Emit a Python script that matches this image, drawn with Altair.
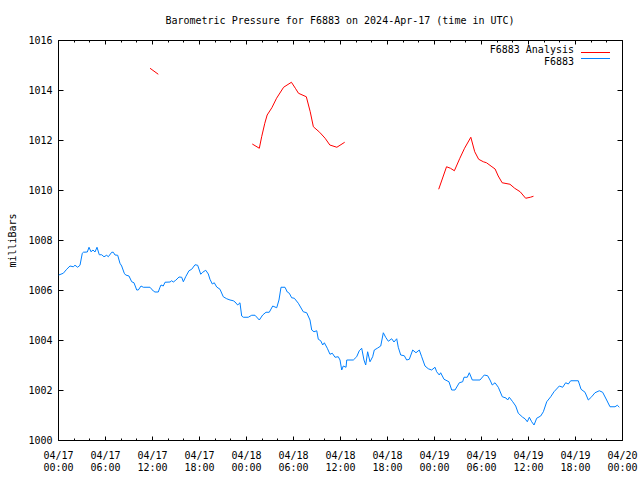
import altair as alt
import pandas as pd

# ---------------- data (hours since 2024-04-17 00:00 UTC, millibars) ----------------
blue_hours = [0.1, 0.68, 1.11, 1.53, 1.95, 2.17, 2.51, 2.81, 3.10, 3.23,
              3.74, 3.96, 4.21, 4.47, 4.72, 4.98, 5.27, 5.58, 5.87, 6.22,
              6.42, 6.86, 7.06, 7.28, 7.62, 7.91, 8.13, 8.46, 8.64, 9.06,
              9.41, 9.70, 10.05, 10.25, 10.60, 10.89, 11.74, 12.17, 12.38, 12.80,
              13.02, 13.15, 13.44, 13.66, 14.30, 14.51, 14.72, 15.03, 15.45, 15.79,
              16.00, 16.30, 16.72, 17.07, 17.49, 17.83, 18.22, 18.47, 18.86, 19.19,
              19.40, 19.70, 19.95, 20.26, 20.68, 21.10, 21.54, 21.96, 22.38, 22.60,
              22.94, 23.23, 23.45, 23.66, 24.29, 24.73, 25.15, 25.70, 26.13, 26.55,
              26.97, 27.41, 27.92, 28.21, 28.47, 28.98, 29.27, 29.53, 29.83, 30.17,
              30.68, 31.31, 31.75, 32.17, 32.39, 32.68, 33.03, 33.23, 33.54, 33.79,
              34.00, 34.38, 34.72, 35.02, 35.36, 35.78, 36.00, 36.22, 36.42, 36.77,
              36.86, 37.70, 38.13, 38.46, 38.77, 39.06, 39.28, 39.53, 39.83, 40.17,
              40.38, 40.76, 41.20, 41.53, 41.83, 42.17, 42.60, 42.89, 43.24, 43.44,
              43.75, 44.21, 44.51, 44.85, 45.28, 45.70, 46.12, 46.43, 46.85, 47.27,
              47.70, 48.13, 48.34, 48.68, 48.85, 49.28, 49.91, 50.26, 50.68, 51.23,
              51.66, 51.83, 52.25, 52.51, 52.89, 53.87, 54.42, 54.85, 55.15, 55.44,
              55.79, 56.21, 56.72, 57.19, 57.41, 57.61, 58.05, 58.43, 58.76, 59.32,
              59.62, 59.91, 60.17, 60.47, 60.77, 61.11, 61.62, 61.96, 62.39, 62.90,
              63.32, 64.00, 64.43, 64.81, 65.15, 65.45, 66.42, 66.77, 67.28, 67.70,
              68.13, 68.55, 69.10, 69.53, 70.04, 70.47, 71.11, 71.40, 71.66]
blue_mb = [1006.60, 1006.67, 1006.83, 1006.96, 1006.93, 1006.99, 1006.91, 1006.99, 1007.47, 1007.51,
           1007.52, 1007.71, 1007.53, 1007.60, 1007.52, 1007.71, 1007.41, 1007.41, 1007.33, 1007.39,
           1007.33, 1007.51, 1007.51, 1007.40, 1007.39, 1007.07, 1006.96, 1006.67, 1006.60, 1006.56,
           1006.33, 1006.29, 1006.00, 1006.00, 1006.16, 1006.11, 1006.11, 1005.96, 1005.92, 1005.92,
           1006.11, 1006.20, 1006.16, 1006.31, 1006.32, 1006.37, 1006.32, 1006.39, 1006.52, 1006.51,
           1006.33, 1006.53, 1006.77, 1006.83, 1007.01, 1006.99, 1006.63, 1006.71, 1006.79, 1006.64,
           1006.43, 1006.24, 1006.29, 1006.12, 1006.03, 1005.73, 1005.65, 1005.60, 1005.57, 1005.52,
           1005.40, 1005.49, 1004.96, 1004.91, 1004.91, 1004.99, 1004.99, 1004.80, 1005.00, 1005.11,
           1005.11, 1005.36, 1005.29, 1005.60, 1006.11, 1006.11, 1005.92, 1005.87, 1005.69, 1005.67,
           1005.47, 1005.13, 1005.09, 1004.80, 1004.40, 1004.33, 1004.37, 1004.03, 1003.97, 1003.80,
           1003.89, 1003.67, 1003.43, 1003.47, 1003.31, 1003.33, 1003.20, 1002.80, 1002.96, 1002.91,
           1003.20, 1003.20, 1003.33, 1003.57, 1003.67, 1003.20, 1003.00, 1003.53, 1003.13, 1003.33,
           1003.60, 1003.67, 1003.76, 1004.29, 1004.11, 1003.95, 1004.05, 1003.92, 1004.05, 1003.71,
           1003.40, 1003.37, 1003.20, 1003.23, 1003.60, 1003.49, 1003.60, 1003.33, 1002.96, 1002.85,
           1002.80, 1002.91, 1002.73, 1002.60, 1002.69, 1002.43, 1002.33, 1002.00, 1002.00, 1002.29,
           1002.33, 1002.51, 1002.51, 1002.69, 1002.40, 1002.40, 1002.60, 1002.57, 1002.40, 1002.20,
           1002.29, 1002.11, 1001.73, 1001.68, 1001.60, 1001.71, 1001.53, 1001.36, 1001.07, 1000.91,
           1000.85, 1000.73, 1000.91, 1000.73, 1000.60, 1000.87, 1000.96, 1001.13, 1001.53, 1001.73,
           1001.93, 1002.16, 1002.11, 1002.29, 1002.24, 1002.37, 1002.37, 1002.03, 1001.91, 1001.60,
           1001.73, 1001.89, 1001.97, 1001.91, 1001.60, 1001.33, 1001.33, 1001.39, 1001.31]

red_hours = [11.75, 12.80,
             24.8, 25.7, 26.0, 26.4, 26.7, 27.3, 27.9, 28.8, 29.8, 30.3, 30.7, 31.7,
             32.2, 32.6, 33.4, 34.1, 34.7, 35.6, 36.6,
             48.6, 49.6, 50.1, 50.6, 51.3, 51.9, 52.7, 53.2, 53.7, 54.3, 54.7, 55.4,
             55.8, 56.2, 56.7, 57.7, 58.3, 59.0, 59.7, 60.3, 60.7]
red_mb = [1014.87, 1014.63,
          1011.84, 1011.67, 1012.13, 1012.67, 1013.00, 1013.29, 1013.67, 1014.11, 1014.31,
          1014.07, 1013.87, 1013.73, 1013.13, 1012.53, 1012.31, 1012.07, 1011.80, 1011.71, 1011.91,
          1010.03, 1010.93, 1010.87, 1010.77, 1011.27, 1011.67, 1012.11, 1011.53, 1011.23, 1011.13,
          1011.09, 1010.93, 1010.84, 1010.56, 1010.29, 1010.23, 1010.07, 1009.93, 1009.67, 1009.71,
          1009.75]
red_segment = [1] * 2 + [2] * 19 + [3] * 21

x_label_hours = [0, 6, 12, 18, 24, 30, 36, 42, 48, 54, 60, 66, 72]
x_minor_hours = list(range(0, 73, 2))
y_ticks = [1000, 1002, 1004, 1006, 1008, 1010, 1012, 1014, 1016]

legend_labels = ["F6883 Analysis", "F6883"]
legend_colors = ["#ff0000", "#0080ff"]

TITLE = "Barometric Pressure for F6883 on 2024-Apr-17 (time in UTC)"
BLUE = "#0080ff"
RED = "#ff0000"
MONO = "DejaVu Sans Mono"

blue_df = pd.DataFrame({"hours": blue_hours, "mb": blue_mb})
red_df = pd.DataFrame({"hours": red_hours, "mb": red_mb, "seg": red_segment})

xs = alt.Scale(domain=[0, 72], nice=False, zero=False)
ys = alt.Scale(domain=[1000, 1016], nice=False, zero=False)

LABEL_EXPR = ("['04/' + (17 + floor(datum.value / 24)), "
              "(datum.value % 24 < 10 ? '0' : '') + (datum.value % 24) + ':00']")


def tick_axis(orient, values, size):
    return alt.Axis(orient=orient, values=values, labels=False, ticks=True,
                    tickSize=size, tickColor="black", tickWidth=1,
                    offset=-size, domain=False, grid=False, title=None)


x_label_axis = alt.Axis(orient="bottom", values=x_label_hours, labelExpr=LABEL_EXPR,
                        ticks=False, domain=False, grid=False, title=None,
                        labelFont=MONO, labelFontSize=10, labelColor="black",
                        labelLineHeight=12, labelPadding=10, labelFlush=False,
                        labelOverlap=False)
y_label_axis = alt.Axis(orient="left", values=y_ticks, format="d",
                        ticks=False, domain=False, grid=False, title="milliBars",
                        labelFont=MONO, labelFontSize=10, labelColor="black",
                        labelPadding=6, labelFlush=False, labelOverlap=False,
                        titleFont=MONO, titleFontSize=10, titleFontWeight="normal",
                        titleColor="black", titlePadding=10)

blue_line = alt.Chart(blue_df).mark_line(color=BLUE, strokeWidth=1).encode(
    x=alt.X("hours:Q", scale=xs, axis=x_label_axis),
    y=alt.Y("mb:Q", scale=ys, axis=y_label_axis),
)

red_line = alt.Chart(red_df).mark_line(color=RED, strokeWidth=1).encode(
    x=alt.X("hours:Q", scale=xs, axis=tick_axis("bottom", x_minor_hours, 2)),
    y=alt.Y("mb:Q", scale=ys, axis=tick_axis("left", y_ticks, 5)),
    detail="seg:N",
)

ghost = alt.Chart(blue_df).mark_line(opacity=0)
g1 = ghost.encode(
    x=alt.X("hours:Q", scale=xs, axis=tick_axis("bottom", x_label_hours, 4)),
    y=alt.Y("mb:Q", scale=ys, axis=tick_axis("right", y_ticks, 5)),
)
g2 = ghost.encode(
    x=alt.X("hours:Q", scale=xs, axis=tick_axis("top", x_label_hours, 4)),
    y=alt.Y("mb:Q", scale=ys, axis=None),
)
g3 = ghost.encode(
    x=alt.X("hours:Q", scale=xs, axis=tick_axis("top", x_minor_hours, 2)),
    y=alt.Y("mb:Q", scale=ys, axis=None),
)

# gnuplot-style key: label right-aligned, line sample to its right
leg_df = pd.DataFrame({"label": legend_labels, "col": legend_colors})
leg_text = alt.Chart(leg_df).mark_text(
    align="right", baseline="middle", font=MONO, fontSize=10, color="black"
).encode(
    text="label:N", x=alt.value(516),
    y=alt.Y("label:N", scale=alt.Scale(domain=legend_labels, range=[10, 22], padding=0),
            axis=None),
)
leg_sample = alt.Chart(leg_df).mark_tick(
    orient="horizontal", size=29, thickness=1, opacity=1
).encode(
    x=alt.value(537.5),
    y=alt.Y("label:N", scale=alt.Scale(domain=legend_labels, range=[9.5, 21.5], padding=0),
            axis=None),
    color=alt.Color("col:N", scale=None, legend=None),
)

chart = alt.layer(
    blue_line, red_line, g1, g2, g3, leg_text, leg_sample,
).resolve_axis(x="independent", y="independent").resolve_scale(y="independent").properties(
    width=564,
    height=400,
    autosize=alt.AutoSizeParams(type="none"),
    padding={"left": 58, "top": 40, "right": 18, "bottom": 40},
    background="white",
    title=alt.TitleParams(TITLE, font=MONO, fontSize=10, fontWeight="normal",
                          color="black", anchor="middle", offset=9),
).configure_view(stroke="black", strokeWidth=1)

chart.save("out.html", embed_options={"renderer": "svg", "actions": False})
